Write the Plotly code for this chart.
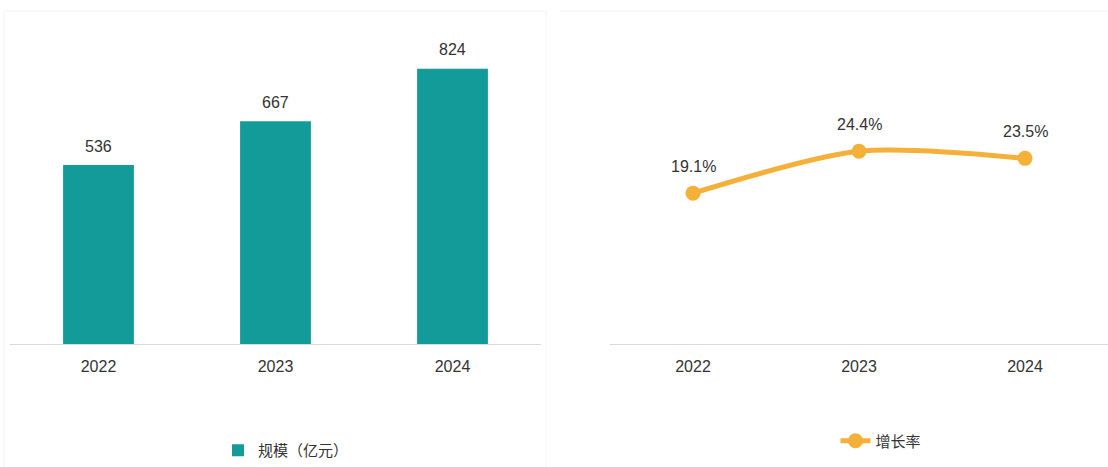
import plotly.graph_objects as go

# Market size (100M CNY) and year-on-year growth rate
years = ["2022", "2023", "2024"]
scale_values = [536, 667, 824]
growth_rates = [19.1, 24.4, 23.5]

BAR_COLOR = "#129B99"
LINE_COLOR = "#F5B03A"
TEXT_COLOR = "#333333"
FONT = "Liberation Sans, Noto Sans CJK SC, sans-serif"
CJK_FONT = "Noto Sans CJK SC, sans-serif"

W, H = 1108, 467

fig = go.Figure()

fig.add_trace(go.Bar(
    x=years, y=scale_values,
    name="规模（亿元）",
    marker=dict(color=BAR_COLOR, line=dict(width=0)),
    width=0.4,
    cliponaxis=False,
    xaxis="x", yaxis="y",
    legend="legend",
))

fig.add_trace(go.Scatter(
    x=years, y=growth_rates,
    name="增长率",
    mode="lines+markers",
    line=dict(color=LINE_COLOR, width=5, shape="spline", smoothing=0.8),
    marker=dict(color=LINE_COLOR, size=15),
    cliponaxis=False,
    xaxis="x2", yaxis="y2",
    legend="legend2",
))

# value labels above the bars (category axes take the index as position)
for i, v in enumerate(scale_values):
    fig.add_annotation(
        x=i, y=v, xref="x", yref="y",
        text=str(v), showarrow=False, yshift=19,
        font=dict(size=16, color=TEXT_COLOR, family=FONT),
    )

# value labels above the growth-rate markers
for i, v in enumerate(growth_rates):
    fig.add_annotation(
        x=i, y=v, xref="x2", yref="y2",
        text=f"{v:.1f}%", showarrow=False, yshift=27,
        font=dict(size=16, color=TEXT_COLOR, family=FONT),
    )

y_dom = [(H - 345) / H, (H - 35) / H]
axis_x = dict(
    type="category", range=[-0.5, len(years) - 0.5],
    showline=True, linecolor="#d9d9d9", linewidth=1,
    ticks="outside", ticklen=8, tickcolor="rgba(0,0,0,0)",
    showgrid=False, zeroline=False,
    tickfont=dict(size=16, color=TEXT_COLOR, family=FONT),
    fixedrange=True,
)
axis_y = dict(visible=False, showgrid=False, zeroline=False, fixedrange=True)

fig.update_layout(
    width=W, height=H,
    margin=dict(l=0, r=0, t=0, b=0),
    paper_bgcolor="white", plot_bgcolor="white",
    font=dict(family=FONT, color=TEXT_COLOR),
    xaxis=dict(domain=[10 / W, 541 / W], anchor="y", **axis_x),
    yaxis=dict(domain=y_dom, range=[0, 925], anchor="x", **axis_y),
    xaxis2=dict(domain=[610 / W, 1.0], anchor="y2", **axis_x),
    yaxis2=dict(domain=y_dom, range=[0, 39.1], anchor="x2", **axis_y),
    legend=dict(
        x=286 / W, y=(H - 451) / H, xanchor="center", yanchor="middle",
        orientation="h", font=dict(size=15, color=TEXT_COLOR, family=CJK_FONT),
        bgcolor="rgba(0,0,0,0)", itemwidth=30,
    ),
    legend2=dict(
        x=881 / W, y=(H - 441) / H, xanchor="center", yanchor="middle",
        orientation="h", font=dict(size=15, color=TEXT_COLOR, family=CJK_FONT),
        bgcolor="rgba(0,0,0,0)",
    ),
    showlegend=True,
)

# faint panel frames
fig.add_shape(type="rect", xref="paper", yref="paper",
              x0=4 / W, x1=546 / W, y0=-0.01, y1=(H - 11) / H,
              line=dict(color="#f3f3f3", width=1), layer="below")
fig.add_shape(type="line", xref="paper", yref="paper",
              x0=560 / W, x1=1.0, y0=(H - 11) / H, y1=(H - 11) / H,
              line=dict(color="#f3f3f3", width=1), layer="below")

fig.write_html("out.html")
